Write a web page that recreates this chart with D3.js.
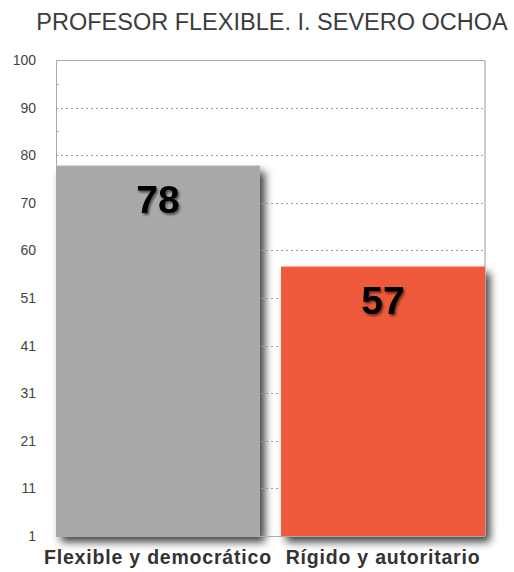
<!DOCTYPE html>
<html>
<head>
<meta charset="utf-8">
<script src="https://cdn.jsdelivr.net/npm/d3@7"></script>
<style>
  html, body { margin: 0; padding: 0; background: #fff; }
  svg { display: block; font-family: "Liberation Sans", Arial, Helvetica, sans-serif; }
</style>
</head>
<body>
<svg id="chart" width="514" height="572"></svg>
<script>
// Chart data
const title = "PROFESOR FLEXIBLE. I. SEVERO OCHOA";
const categories = ["Flexible y democrático", "Rígido y autoritario"];
const values = [78, 57];
const barColors = ["#a9a9a9", "#ee5a3b"];
const yMin = 1, yMax = 100;
const tickCount = 10;

const svg = d3.select("#chart");
const margin = { top: 60, right: 29, bottom: 36, left: 56 };
const W = 514, H = 572;
const innerW = W - margin.left - margin.right;
const innerH = H - margin.top - margin.bottom;

const defs = svg.append("defs");
const shadow = defs.append("filter").attr("id", "barShadow")
  .attr("x", "-10%").attr("y", "-10%").attr("width", "130%").attr("height", "130%");
shadow.append("feDropShadow").attr("dx", 5).attr("dy", 6).attr("stdDeviation", 4.5)
  .attr("flood-color", "#000").attr("flood-opacity", 0.75);
const textShadow = defs.append("filter").attr("id", "textShadow")
  .attr("x", "-20%").attr("y", "-20%").attr("width", "150%").attr("height", "150%");
textShadow.append("feDropShadow").attr("dx", 1.5).attr("dy", 2).attr("stdDeviation", 1.2)
  .attr("flood-color", "#000").attr("flood-opacity", 0.55);

svg.append("text")
  .attr("x", 272).attr("y", 30)
  .attr("text-anchor", "middle")
  .attr("font-size", 23.5)
  .attr("fill", "#3c3c3c")
  .text(title);

const g = svg.append("g").attr("transform", `translate(${margin.left},${margin.top})`);

const x = d3.scaleBand().domain(categories).range([0, innerW])
  .paddingInner(0.094).paddingOuter(0);
const y = d3.scaleLinear().domain([yMin, yMax]).range([innerH, 0]);

const step = (yMax - yMin) / tickCount;
const majorTicks = d3.range(tickCount + 1).map(i => yMin + i * step);
const minorTicks = d3.range(tickCount).map(i => yMin + (i + 0.5) * step);

const barAttrs = sel => sel
  .attr("x", (d, i) => x(categories[i]))
  .attr("width", x.bandwidth())
  .attr("y", d => y(d))
  .attr("height", d => innerH - y(d))
  .attr("fill", (d, i) => barColors[i]);

// Bar drop shadows (below the grid)
g.selectAll(".barShadow").data(values).join("rect")
  .attr("class", "barShadow").call(barAttrs)
  .attr("filter", "url(#barShadow)");

// Frame
g.append("line").attr("x1", 0).attr("x2", innerW).attr("y1", 0.5).attr("y2", 0.5)
  .attr("stroke", "#aaa").attr("stroke-width", 1);
g.append("line").attr("x1", innerW).attr("x2", innerW).attr("y1", 0).attr("y2", innerH)
  .attr("stroke", "#bbb").attr("stroke-width", 1.5);
g.append("line").attr("x1", 0.5).attr("x2", 0.5).attr("y1", 0).attr("y2", innerH)
  .attr("stroke", "#aaa").attr("stroke-width", 1);
g.append("line").attr("x1", 0).attr("x2", innerW).attr("y1", innerH + 0.5).attr("y2", innerH + 0.5)
  .attr("stroke", "#aaa").attr("stroke-width", 1);

// Dotted gridlines at major ticks
g.selectAll(".grid").data(majorTicks.slice(1, -1)).join("line")
  .attr("class", "grid")
  .attr("x1", 0).attr("x2", innerW)
  .attr("y1", d => Math.round(y(d)) + 0.5).attr("y2", d => Math.round(y(d)) + 0.5)
  .attr("stroke", "#999").attr("stroke-width", 1).attr("stroke-dasharray", "2,3");

// Minor tick marks
g.selectAll(".minor").data(minorTicks).join("line")
  .attr("class", "minor")
  .attr("x1", 0).attr("x2", 3)
  .attr("y1", d => Math.round(y(d)) + 0.5).attr("y2", d => Math.round(y(d)) + 0.5)
  .attr("stroke", "#aaa");

// Y axis labels
const yAxis = d3.axisLeft(y).tickValues(majorTicks).tickSize(0).tickPadding(20)
  .tickFormat(d => Math.round(d));
const ya = g.append("g").call(yAxis);
ya.select(".domain").remove();
ya.selectAll("text").attr("font-size", 14).attr("fill", "#444")
  .attr("font-family", "\"Liberation Sans\", Arial, sans-serif");

// Bars
g.selectAll(".bar").data(values).join("rect")
  .attr("class", "bar").call(barAttrs);

// Value labels
g.selectAll(".val").data(values).join("text")
  .attr("class", "val")
  .attr("x", (d, i) => x(categories[i]) + x.bandwidth() / 2)
  .attr("y", d => y(d) + 47)
  .attr("text-anchor", "middle")
  .attr("font-size", 39).attr("font-weight", "bold").attr("fill", "#000")
  .attr("filter", "url(#textShadow)")
  .text(d => d);

// Category labels
const xAxis = d3.axisBottom(x).tickSize(0).tickPadding(14);
const xa = g.append("g").attr("transform", `translate(0,${innerH})`).call(xAxis);
xa.select(".domain").remove();
xa.selectAll("text").attr("font-size", 19.5).attr("font-weight", "bold").attr("fill", "#333")
  .attr("letter-spacing", 0.8)
  .attr("font-family", "\"Liberation Sans\", Arial, sans-serif");
</script>
</body>
</html>
